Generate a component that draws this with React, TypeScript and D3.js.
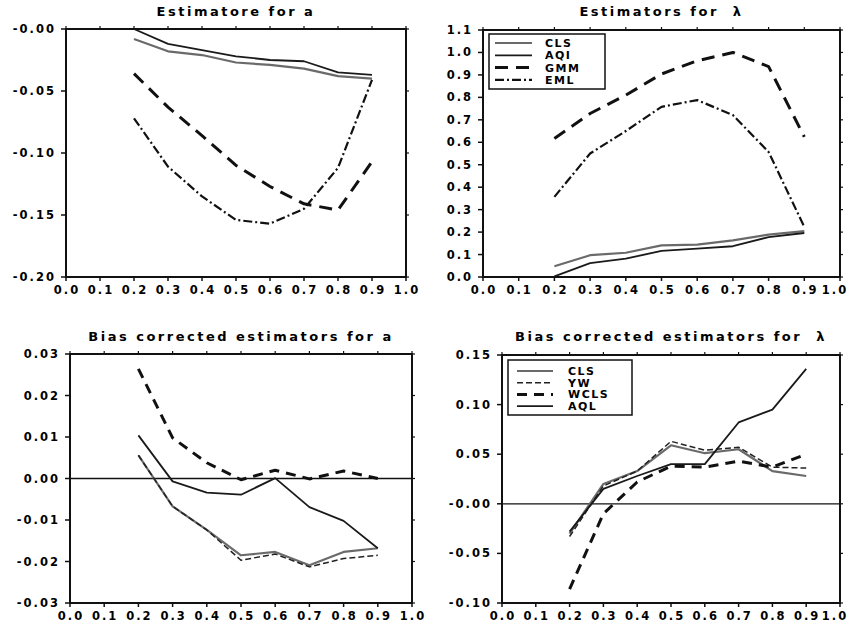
import React from "react";
import * as d3 from "d3";

// shared x values
const rho = [0.2, 0.3, 0.4, 0.5, 0.6, 0.7, 0.8, 0.9];
const xTicks = [0, 0.1, 0.2, 0.3, 0.4, 0.5, 0.6, 0.7, 0.8, 0.9, 1.0];

// Estimators for a
const aCLS = [-0.008, -0.018, -0.021, -0.027, -0.029, -0.032, -0.038, -0.04];
const aAQI = [0.0, -0.012, -0.017, -0.022, -0.025, -0.026, -0.035, -0.037];
const aGMM = [-0.036, -0.063, -0.086, -0.11, -0.127, -0.141, -0.146, -0.107];
const aEML = [-0.072, -0.111, -0.135, -0.154, -0.157, -0.145, -0.112, -0.041];
const aTicks = [-0.2, -0.15, -0.1, -0.05, 0];
const aTickLabels = ["-0.20", "-0.15", "-0.10", "-0.05", "-0.00"];

// Estimators for lambda
const lCLS = [0.048, 0.097, 0.108, 0.141, 0.144, 0.163, 0.189, 0.204];
const lAQI = [0.003, 0.062, 0.082, 0.116, 0.126, 0.137, 0.178, 0.196];
const lGMM = [0.617, 0.728, 0.81, 0.904, 0.963, 1.0, 0.937, 0.624];
const lEML = [0.357, 0.55, 0.65, 0.758, 0.788, 0.721, 0.557, 0.223];
const lTicks = [0, 0.1, 0.2, 0.3, 0.4, 0.5, 0.6, 0.7, 0.8, 0.9, 1.0, 1.1];
const lTickLabels = ["0.0", "0.1", "0.2", "0.3", "0.4", "0.5", "0.6", "0.7", "0.8", "0.9", "1.0", "1.1"];

// Bias corrected for a
const baCLS = [0.0056, -0.0067, -0.0124, -0.0185, -0.0177, -0.0209, -0.0177, -0.0168];
const baYW = [0.0056, -0.0067, -0.0124, -0.0197, -0.0182, -0.0213, -0.0193, -0.0185];
const baWCLS = [0.0264, 0.0098, 0.0038, -0.0003, 0.002, -0.0001, 0.0018, 0.0];
const baAQL = [0.0104, -0.0007, -0.0034, -0.0039, 0.0001, -0.0069, -0.0102, -0.0168];
const baTicks = [-0.03, -0.02, -0.01, 0, 0.01, 0.02, 0.03];
const baTickLabels = ["-0.03", "-0.02", "-0.01", "0.00", "0.01", "0.02", "0.03"];

// Bias corrected for lambda
const blCLS = [-0.03, 0.02, 0.033, 0.059, 0.051, 0.055, 0.033, 0.028];
const blYW = [-0.033, 0.018, 0.033, 0.063, 0.054, 0.057, 0.037, 0.036];
const blWCLS = [-0.086, -0.01, 0.022, 0.038, 0.037, 0.043, 0.037, 0.05];
const blAQL = [-0.028, 0.015, 0.028, 0.04, 0.04, 0.082, 0.095, 0.136];
const blTicks = [-0.1, -0.05, 0, 0.05, 0.1, 0.15];
const blTickLabels = ["-0.10", "-0.05", "-0.00", "0.05", "0.10", "0.15"];

type LineStyle = { stroke: string; width: number; dash?: string };
const styles: Record<string, LineStyle> = {
  CLS: { stroke: "#6a6a6a", width: 2.2 },
  AQI: { stroke: "#1a1a1a", width: 1.8 },
  AQL: { stroke: "#1a1a1a", width: 1.8 },
  GMM: { stroke: "#111", width: 3, dash: "13,8" },
  EML: { stroke: "#111", width: 2.2, dash: "9,3,2,3" },
  YW: { stroke: "#222", width: 1.5, dash: "6,3" },
  WCLS: { stroke: "#111", width: 3, dash: "10,7" },
};

const font = "'DejaVu Sans', Verdana, sans-serif";

type Series = { name: string; values: number[] };
type Box = { left: number; right: number; top: number; bottom: number };

function Panel(props: {
  box: Box;
  title: string;
  titleY: number;
  yDomain: [number, number];
  yTicks: number[];
  yLabels: string[];
  series: Series[];
  zeroLine?: boolean;
  legend?: { x: number; y: number; w: number; h: number; rowY: number; step: number; lineX: number; lineW: number; textX: number };
  legendNames?: string[];
}) {
  const { box, yDomain } = props;
  const x = d3.scaleLinear().domain([0, 1]).range([box.left, box.right]);
  const y = d3.scaleLinear().domain(yDomain).range([box.bottom, box.top]);
  const line = d3
    .line<number>()
    .x((_, i) => x(rho[i]))
    .y((d) => y(d));
  const cx = (box.left + box.right) / 2;
  return (
    <g>
      <text
        x={cx}
        y={props.titleY}
        textAnchor="middle"
        fontFamily={font}
        fontWeight="bold"
        fontSize={13}
        letterSpacing={2.5}
        style={{ whiteSpace: "pre" }}
      >
        {props.title}
      </text>
      {props.zeroLine && (
        <line x1={box.left} x2={box.right} y1={y(0)} y2={y(0)} stroke="#111" strokeWidth={1.3} />
      )}
      {props.series.map((s) => {
        const st = styles[s.name];
        return (
          <path
            key={s.name}
            d={line(s.values) || ""}
            fill="none"
            stroke={st.stroke}
            strokeWidth={st.width}
            strokeDasharray={st.dash}
            strokeLinejoin="round"
          />
        );
      })}
      <rect
        x={box.left}
        y={box.top}
        width={box.right - box.left}
        height={box.bottom - box.top}
        fill="none"
        stroke="#111"
        strokeWidth={2}
      />
      {xTicks.map((t) => (
        <g key={"x" + t}>
          <line x1={x(t)} x2={x(t)} y1={box.bottom} y2={box.bottom + 4} stroke="#111" strokeWidth={1.5} />
          <line x1={x(t)} x2={x(t)} y1={box.top} y2={box.top - 3} stroke="#111" strokeWidth={1.2} />
          <text
            x={Math.min(x(t) + 1, 835)}
            y={box.bottom + 17}
            textAnchor="middle"
            fontFamily={font}
            fontWeight="bold"
            fontSize={11.5}
            letterSpacing={2}
          >
            {d3.format(".1f")(t)}
          </text>
        </g>
      ))}
      {props.yTicks.map((t, i) => (
        <g key={"y" + t}>
          <line x1={box.left - 5} x2={box.left} y1={y(t)} y2={y(t)} stroke="#111" strokeWidth={1.5} />
          <line x1={box.right} x2={box.right + 3} y1={y(t)} y2={y(t)} stroke="#111" strokeWidth={1.2} />
          <text
            x={box.left - 10}
            y={y(t) + 4}
            textAnchor="end"
            fontFamily={font}
            fontWeight="bold"
            fontSize={11.5}
            letterSpacing={2}
          >
            {props.yLabels[i]}
          </text>
        </g>
      ))}
      {props.legend && props.legendNames && (
        <g>
          <rect
            x={props.legend.x}
            y={props.legend.y}
            width={props.legend.w}
            height={props.legend.h}
            fill="white"
            stroke="#111"
            strokeWidth={1.5}
          />
          {props.legendNames.map((n, i) => {
            const st = styles[n];
            const ry = props.legend!.rowY + i * props.legend!.step;
            return (
              <g key={n}>
                <line
                  x1={props.legend!.lineX}
                  x2={props.legend!.lineX + props.legend!.lineW}
                  y1={ry}
                  y2={ry}
                  stroke={st.stroke}
                  strokeWidth={st.width}
                  strokeDasharray={st.dash}
                />
                <text
                  x={props.legend!.textX}
                  y={ry + 4}
                  fontFamily={font}
                  fontWeight="bold"
                  fontSize={11}
                  letterSpacing={1.5}
                >
                  {n}
                </text>
              </g>
            );
          })}
        </g>
      )}
    </g>
  );
}

export default function App() {
  return (
    <svg width={849} height={627} style={{ position: "absolute", left: 0, top: 0, background: "white" }}>
      <Panel
        box={{ left: 66, right: 406, top: 29, bottom: 277 }}
        title="Estimatore for a"
        titleY={16}
        yDomain={[-0.2, 0]}
        yTicks={aTicks}
        yLabels={aTickLabels}
        series={[
          { name: "CLS", values: aCLS },
          { name: "AQI", values: aAQI },
          { name: "GMM", values: aGMM },
          { name: "EML", values: aEML },
        ]}
      />
      <Panel
        box={{ left: 483, right: 840, top: 30, bottom: 277 }}
        title={"Estimators for  \u03bb"}
        titleY={16}
        yDomain={[0, 1.1]}
        yTicks={lTicks}
        yLabels={lTickLabels}
        series={[
          { name: "CLS", values: lCLS },
          { name: "AQI", values: lAQI },
          { name: "GMM", values: lGMM },
          { name: "EML", values: lEML },
        ]}
        legend={{ x: 489, y: 34, w: 116, h: 55, rowY: 43, step: 12.3, lineX: 495, lineW: 37, textX: 545 }}
        legendNames={["CLS", "AQI", "GMM", "EML"]}
      />
      <Panel
        box={{ left: 70, right: 412, top: 354, bottom: 603 }}
        title="Bias corrected estimators for a"
        titleY={341}
        yDomain={[-0.03, 0.03]}
        yTicks={baTicks}
        yLabels={baTickLabels}
        zeroLine
        series={[
          { name: "CLS", values: baCLS },
          { name: "YW", values: baYW },
          { name: "WCLS", values: baWCLS },
          { name: "AQL", values: baAQL },
        ]}
      />
      <Panel
        box={{ left: 502, right: 840, top: 355, bottom: 603 }}
        title={"Bias corrected estimators for  \u03bb"}
        titleY={341}
        yDomain={[-0.1, 0.15]}
        yTicks={blTicks}
        yLabels={blTickLabels}
        zeroLine
        series={[
          { name: "CLS", values: blCLS },
          { name: "YW", values: blYW },
          { name: "WCLS", values: blWCLS },
          { name: "AQL", values: blAQL },
        ]}
        legend={{ x: 508, y: 360, w: 124, h: 55, rowY: 371, step: 11.7, lineX: 517, lineW: 36, textX: 568 }}
        legendNames={["CLS", "YW", "WCLS", "AQL"]}
      />
    </svg>
  );
}
